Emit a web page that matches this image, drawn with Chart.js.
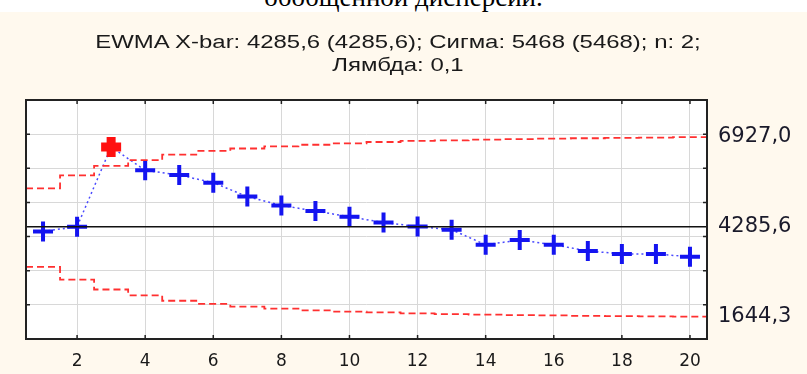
<!DOCTYPE html>
<html>
<head>
<meta charset="utf-8">
<script src="https://cdn.jsdelivr.net/npm/chart.js@4.4.0/dist/chart.umd.min.js"></script>
<style>
  html, body { margin: 0; padding: 0; background: #fff; }
  body { width: 807px; height: 374px; position: relative; overflow: hidden; }
  #caption {
    position: absolute; left: 0; top: -16px; width: 807px; text-align: center;
    font-family: "Liberation Serif", serif; font-size: 27px; line-height: 27px; color: #000;
  }
  #wrap { position: absolute; left: 0; top: 12px; width: 807px; height: 362px; background: #fff9ee; }
  #title {
    position: absolute; left: 0; top: 31px; width: 796px; text-align: center;
    font-family: "Liberation Sans", Arial, sans-serif; font-size: 18px; line-height: 23px;
    color: #1a1a1a; transform: scaleX(1.33); transform-origin: 398px 0;
  }
</style>
</head>
<body>
<div id="caption">обобщенной дисперсии.</div>
<div id="wrap"><canvas id="ewmaChart" width="807" height="362"></canvas></div>
<div id="title"></div>
<script>
// EWMA chart data ------------------------------------------------------------
const sampleNo = [1, 2, 3, 4, 5, 6, 7, 8, 9, 10, 11, 12, 13, 14, 15, 16, 17, 18, 19, 20];
const ewma = [4150, 4290, 6625, 5940, 5800, 5580, 5170, 4910, 4750, 4580,
              4410, 4295, 4200, 3760, 3900, 3760, 3580, 3490, 3490, 3410];
const ucl = [5410, 5790, 6070, 6240, 6400, 6510, 6580, 6640, 6690, 6730,
             6770, 6800, 6820, 6840, 6855, 6870, 6880, 6890, 6900, 6910];
const lcl = [3110, 2740, 2450, 2280, 2120, 2030, 1950, 1890, 1840, 1800,
             1780, 1750, 1730, 1715, 1700, 1690, 1680, 1670, 1660, 1655];
const centerLine = 4285.6;
const limitTicks = [6927.0, 4285.6, 1644.3];
const xTicks = [2, 4, 6, 8, 10, 12, 14, 16, 18, 20];
const titleLines = ['EWMA X-bar: 4285,6 (4285,6); Сигма: 5468 (5468); n: 2;', 'Лямбда: 0,1'];

const xMin = 0.5, xMax = 20.5;
const yMin = 1000, yMax = 8000;

document.getElementById('title').innerHTML = titleLines.join('<br>');

// step lines run edge to edge of the plot
const stepLine = arr => [
  { x: xMin, y: arr[0] },
  ...sampleNo.map((n, i) => ({ x: n, y: arr[i] })),
  { x: xMax, y: arr[arr.length - 1] }
];
const outOfControl = i => ewma[i] > ucl[i] || ewma[i] < lcl[i];

// white plot area + inner tick marks and frame
const plotFrame = {
  id: 'plotFrame',
  beforeDraw(chart) {
    const { ctx, chartArea: a } = chart;
    ctx.save();
    ctx.fillStyle = '#fff';
    ctx.fillRect(a.left, a.top, a.right - a.left, a.bottom - a.top);
    ctx.restore();
  },
  afterDraw(chart) {
    const { ctx, chartArea: a, scales } = chart;
    ctx.save();
    ctx.strokeStyle = '#222';
    ctx.lineWidth = 1.5;
    ctx.beginPath();
    scales.x.ticks.forEach(t => {
      const px = scales.x.getPixelForValue(t.value);
      ctx.moveTo(px, a.bottom); ctx.lineTo(px, a.bottom - 4);
      ctx.moveTo(px, a.top); ctx.lineTo(px, a.top + 4);
    });
    scales.y.ticks.forEach(t => {
      const py = scales.y.getPixelForValue(t.value);
      ctx.moveTo(a.left, py); ctx.lineTo(a.left + 4, py);
      ctx.moveTo(a.right, py); ctx.lineTo(a.right - 4, py);
    });
    ctx.stroke();
    ctx.lineWidth = 2;
    ctx.strokeRect(a.left, a.top, a.right - a.left, a.bottom - a.top);
    ctx.restore();
  }
};

const ctx = document.getElementById('ewmaChart').getContext('2d');
new Chart(ctx, {
  type: 'line',
  data: {
    datasets: [
      {
        label: 'CL',
        data: [{ x: xMin, y: centerLine }, { x: xMax, y: centerLine }],
        borderColor: '#111',
        borderWidth: 1.6,
        pointRadius: 0
      },
      {
        label: 'UCL',
        data: stepLine(ucl),
        stepped: 'middle',
        borderColor: '#ff3030',
        borderWidth: 1.8,
        borderDash: [7, 4],
        pointRadius: 0
      },
      {
        label: 'LCL',
        data: stepLine(lcl),
        stepped: 'middle',
        borderColor: '#ff3030',
        borderWidth: 1.8,
        borderDash: [7, 4],
        pointRadius: 0
      },
      {
        label: 'EWMA',
        data: sampleNo.map((n, i) => ({ x: n, y: ewma[i] })),
        borderColor: '#4a4aff',
        borderWidth: 1.5,
        borderDash: [2, 3],
        pointStyle: 'cross',
        pointRadius: 10,
        pointBorderWidth: c => outOfControl(c.dataIndex) ? 9 : 4,
        pointBorderColor: c => outOfControl(c.dataIndex) ? '#ff1010' : '#1414f0',
        pointBackgroundColor: c => outOfControl(c.dataIndex) ? '#ff1010' : '#1414f0'
      }
    ]
  },
  options: {
    responsive: false,
    devicePixelRatio: 1,
    animation: false,
    layout: { padding: { top: 88 } },
    plugins: {
      legend: { display: false },
      tooltip: { enabled: false },
      title: { display: false }
    },
    scales: {
      x: {
        type: 'linear',
        min: xMin,
        max: xMax,
        afterBuildTicks: s => { s.ticks = xTicks.map(v => ({ value: v })); },
        afterFit: s => { s.height = 35; },
        grid: { color: '#d8d8d8', drawTicks: false },
        border: { display: false },
        ticks: {
          color: '#1a1a1a',
          padding: 12,
          font: { family: 'DejaVu Sans', size: 17 }
        }
      },
      y: {
        position: 'left',
        min: yMin,
        max: yMax,
        ticks: { display: false, stepSize: 1000 },
        afterFit: s => { s.width = 26; },
        grid: { color: '#d8d8d8', drawTicks: false },
        border: { display: false }
      },
      yLimits: {
        position: 'right',
        min: yMin,
        max: yMax,
        afterBuildTicks: s => { s.ticks = limitTicks.map(v => ({ value: v })); },
        afterFit: s => { s.width = 100; },
        grid: { display: false, drawTicks: false },
        border: { display: false },
        ticks: {
          color: '#1a1a2a',
          padding: 11,
          font: { family: 'DejaVu Sans', size: 21 },
          callback: v => v.toFixed(1).replace('.', ',')
        }
      }
    }
  },
  plugins: [plotFrame]
});
</script>
</body>
</html>
